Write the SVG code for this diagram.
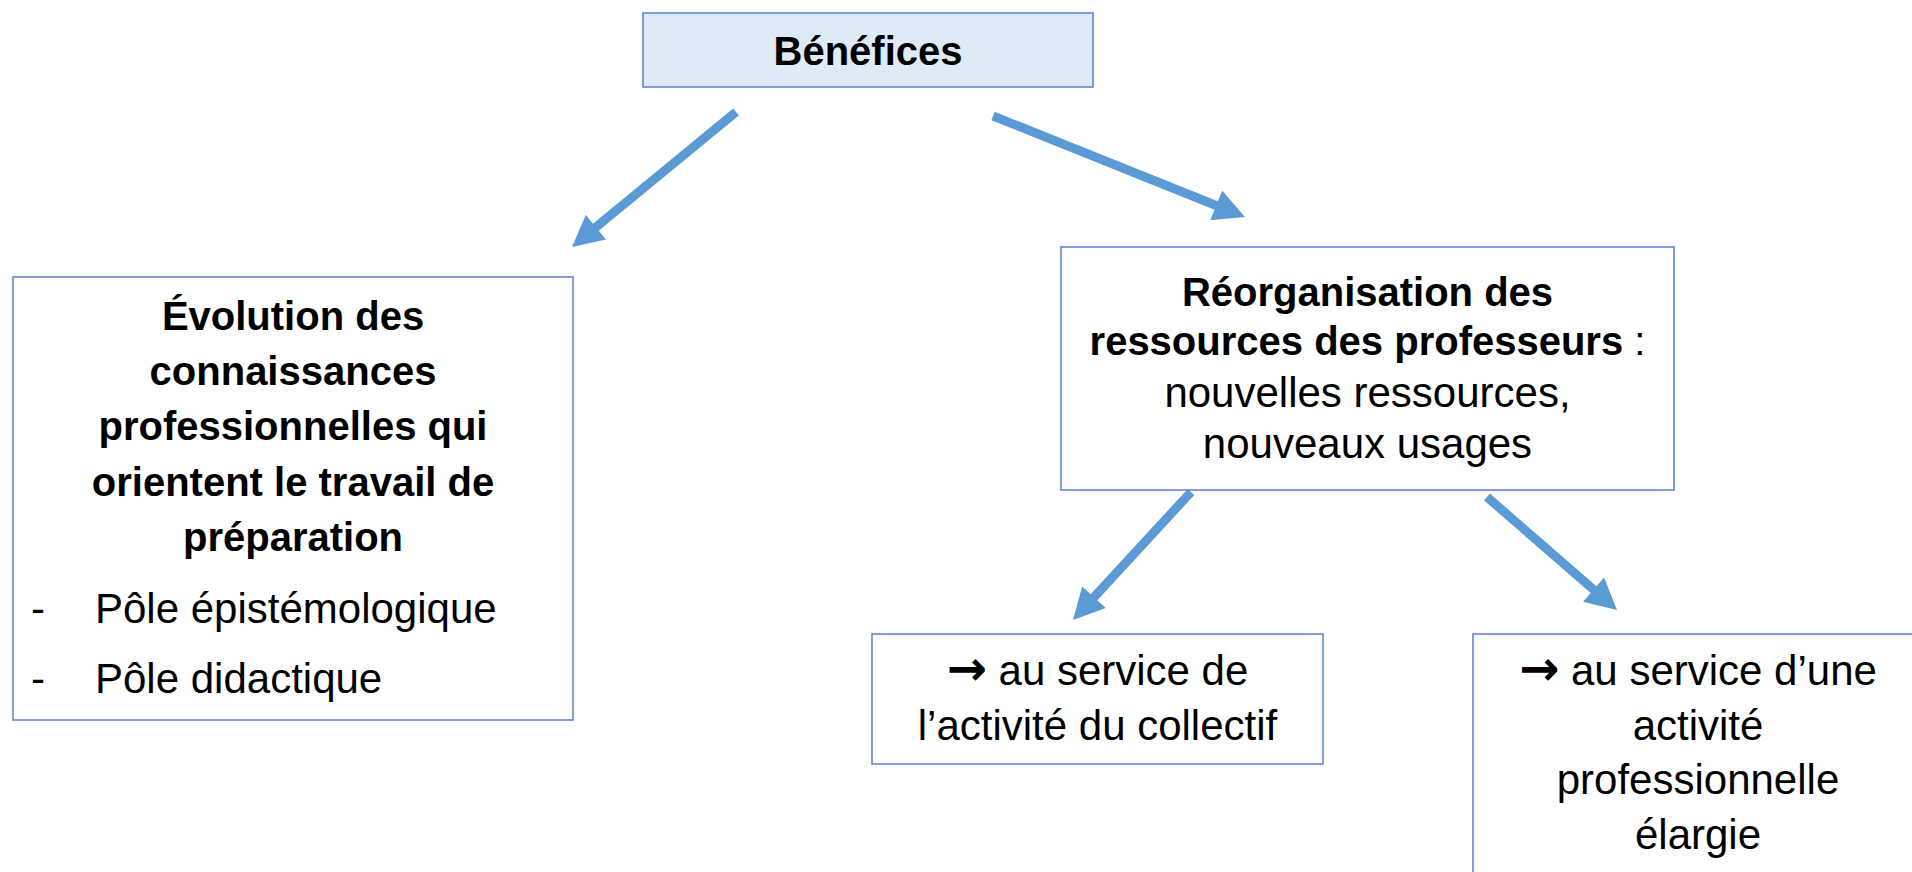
<svg xmlns="http://www.w3.org/2000/svg" width="1912" height="872" viewBox="0 0 1912 872">
  <style>
    .box { fill: #ffffff; stroke: #5B7FD0; stroke-width: 1.5; }
    .top { fill: #DEEBF7; stroke: #5B7FD0; stroke-width: 1.5; }
    .b { font-family: "Liberation Sans", Arial, sans-serif; font-weight: bold; font-size: 40px; fill: #000; text-anchor: middle; }
    .r { font-family: "Liberation Sans", Arial, sans-serif; font-size: 42px; fill: #000; text-anchor: middle; }
    .rl { font-family: "Liberation Sans", Arial, sans-serif; font-size: 42px; fill: #000; }
    .arr { font-family: "DejaVu Sans", sans-serif; font-weight: bold; font-size: 48px; }
    .conn { stroke: #5B9BD5; stroke-width: 9; fill: none; marker-end: url(#head); }
  </style>
  <defs>
    <marker id="head" markerUnits="userSpaceOnUse" markerWidth="32" markerHeight="32" viewBox="0 0 31 32" refX="10" refY="16" orient="auto">
      <path d="M0,0 L31,16 L0,32 Z" fill="#5B9BD5"/>
    </marker>
  </defs>
  <rect width="1912" height="872" fill="#ffffff"/>

  <g id="connectors">
    <line class="conn" x1="736" y1="112" x2="588.2" y2="233.6"/>
    <line class="conn" x1="993" y1="116" x2="1225.5" y2="209.2"/>
    <line class="conn" x1="1191" y1="492" x2="1087.2" y2="604.6"/>
    <line class="conn" x1="1487" y1="497" x2="1601.1" y2="596.2"/>
  </g>

  <g id="benefices">
    <rect class="top" x="643" y="13" width="450" height="74"/>
    <text class="b" x="868" y="65">Bénéfices</text>
  </g>

  <g id="evolution">
    <rect class="box" x="13" y="277" width="560" height="443"/>
    <text class="b" x="293" y="330">Évolution des</text>
    <text class="b" x="293" y="385">connaissances</text>
    <text class="b" x="293" y="440">professionnelles qui</text>
    <text class="b" x="293" y="496">orientent le travail de</text>
    <text class="b" x="293" y="551">préparation</text>
    <text class="rl" x="31" y="623">-</text>
    <text class="rl" x="95" y="623">Pôle épistémologique</text>
    <text class="rl" x="31" y="693">-</text>
    <text class="rl" x="95" y="693">Pôle didactique</text>
  </g>

  <g id="reorganisation">
    <rect class="box" x="1061" y="247" width="613" height="243"/>
    <text class="b" x="1367.5" y="306">Réorganisation des</text>
    <text class="b" x="1367.5" y="355">ressources des professeurs<tspan font-weight="normal"> :</tspan></text>
    <text class="r" x="1367.5" y="407">nouvelles ressources,</text>
    <text class="r" x="1367.5" y="458">nouveaux usages</text>
  </g>

  <g id="collectif">
    <rect class="box" x="872" y="634" width="451" height="130"/>
    <text class="r" x="1097.5" y="685"><tspan class="arr">→</tspan> au service de</text>
    <text class="r" x="1097.5" y="740">l’activité du collectif</text>
  </g>

  <g id="elargie">
    <rect class="box" x="1473" y="634" width="460" height="300"/>
    <text class="r" x="1698" y="685"><tspan class="arr">→</tspan> au service d’une</text>
    <text class="r" x="1698" y="740">activité</text>
    <text class="r" x="1698" y="794">professionnelle</text>
    <text class="r" x="1698" y="849">élargie</text>
  </g>
</svg>
